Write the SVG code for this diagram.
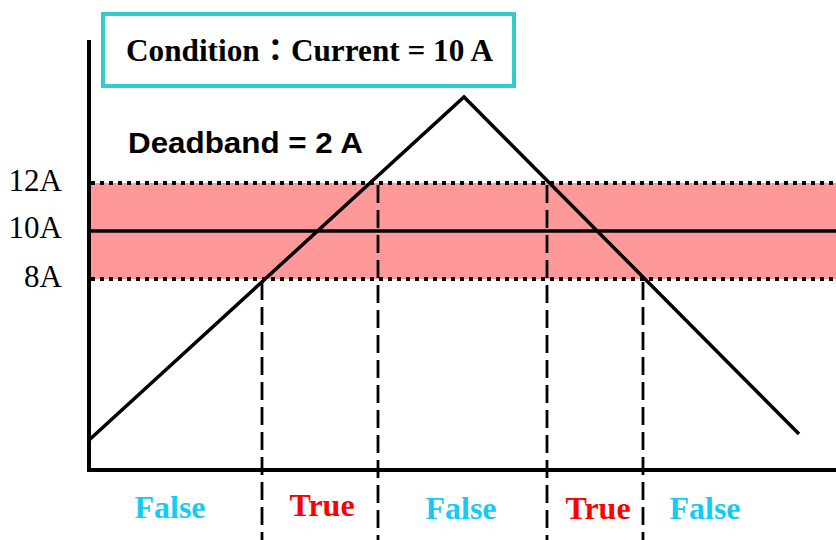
<svg xmlns="http://www.w3.org/2000/svg" width="836" height="540" viewBox="0 0 836 540">
<style>
.axis{stroke:#000;stroke-width:4;fill:none}
.solid{stroke:#000;stroke-width:3.5;fill:none}
.dot{stroke:#000;stroke-width:4;stroke-dasharray:4 5;fill:none}
.dash{stroke:#000;stroke-width:2.8;stroke-dasharray:18 7;fill:none}
.ylab{font-family:"Liberation Serif","Times New Roman",serif;font-size:31px;fill:#000;text-anchor:end}
.res{font-family:"Liberation Serif","Times New Roman",serif;font-size:32px;font-weight:bold;text-anchor:middle}
.f{fill:#14cbf3}
.t{fill:#ff0000}
</style>
<rect x="89" y="183" width="747" height="96" fill="#ff9999"/>
<g id="connectors">
<line class="axis" x1="89" y1="40" x2="89" y2="472"/>
<line class="axis" x1="87" y1="470" x2="836" y2="470"/>
<line class="dot" x1="91" y1="183" x2="836" y2="183"/>
<line class="dot" x1="91" y1="279" x2="836" y2="279"/>
<line class="solid" x1="91" y1="231" x2="836" y2="231"/>
<polyline class="solid" points="88,441 464,97 799,434"/>
<line class="dash" x1="262" y1="282" x2="262" y2="540"/>
<line class="dash" x1="378" y1="185" x2="378" y2="540"/>
<line class="dash" x1="547" y1="185" x2="547" y2="540"/>
<line class="dash" x1="643" y1="282" x2="643" y2="540"/>
</g>
<g id="condition">
<rect x="103" y="14" width="411" height="72" fill="#fff" stroke="#33cccc" stroke-width="4"/>
<text x="126" y="61" font-family="'Liberation Serif','Times New Roman','Noto Sans CJK TC',serif" font-size="31" font-weight="bold" textLength="367" lengthAdjust="spacingAndGlyphs">Condition：Current = 10 A</text>
</g>
<g id="deadband">
<text x="128" y="153" font-family="'Liberation Sans',Arial,sans-serif" font-size="30" font-weight="bold" textLength="235" lengthAdjust="spacingAndGlyphs">Deadband = 2 A</text>
</g>
<g id="ylabels">
<text class="ylab" x="62" y="191">12A</text>
<text class="ylab" x="62" y="238">10A</text>
<text class="ylab" x="62" y="287">8A</text>
</g>
<g id="results">
<text class="res f" x="170" y="518">False</text>
<text class="res t" x="322" y="516">True</text>
<text class="res f" x="461" y="519">False</text>
<text class="res t" x="598" y="519">True</text>
<text class="res f" x="705" y="519">False</text>
</g>
</svg>
